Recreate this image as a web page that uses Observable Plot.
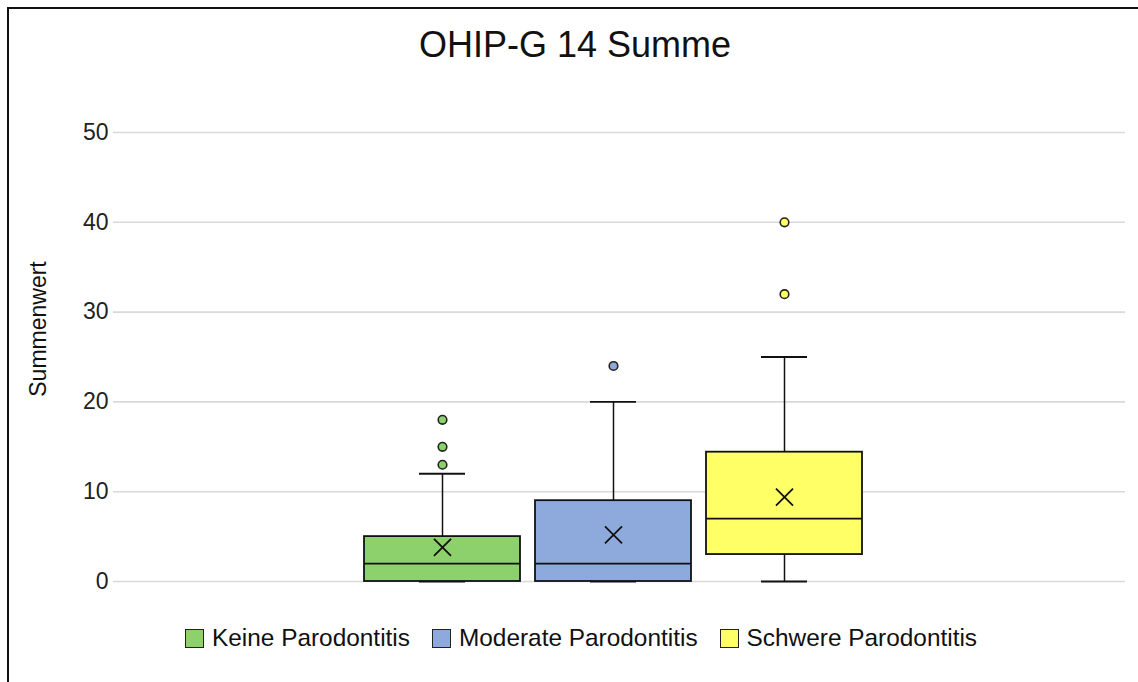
<!DOCTYPE html>
<html>
<head>
<meta charset="utf-8">
<script src="https://cdn.jsdelivr.net/npm/d3@7"></script>
<script src="https://cdn.jsdelivr.net/npm/@observablehq/plot@0.6"></script>
<style>
  html, body { margin: 0; padding: 0; background: #fff; overflow: hidden; width: 1138px; height: 682px; }
  body { position: relative; font-family: "Liberation Sans", Arial, Helvetica, sans-serif; color: #111; }
  #frame { position: absolute; left: 7px; top: 7px; width: 1300px; height: 900px; border-top: 2px solid #111; border-left: 2px solid #111; box-sizing: border-box; }
  #title { position: absolute; left: 575px; top: 27px; transform: translateX(-50%); font-size: 36px; line-height: 1; white-space: nowrap; color: #111; }
  #ylabel { position: absolute; left: 38px; top: 329px; transform: translate(-50%, -50%) rotate(-90deg); font-size: 23px; line-height: 1; white-space: nowrap; color: #111; }
  #chart { position: absolute; left: 0; top: 0; }
  #legend { position: absolute; left: 185px; top: 626px; display: flex; align-items: center; height: 24px; font-size: 24.4px; line-height: 1; white-space: nowrap; color: #111; }
  .item { display: flex; align-items: center; margin-right: 22px; }
  .sw { width: 17px; height: 17px; border: 1.5px solid #222; margin-right: 8px; }
</style>
</head>
<body>
<div id="frame"></div>
<div id="title">OHIP-G 14 Summe</div>
<div id="ylabel">Summenwert</div>
<div id="chart"></div>
<div id="legend"></div>
<script>
const series = ["Keine Parodontitis", "Moderate Parodontitis", "Schwere Parodontitis"];
const colors = ["#8CD16B", "#8EAADC", "#FFFF66"];
const minVals = [0, 0, 0];
const q1Vals = [0, 0, 3];
const medians = [2, 2, 7];
const q3Vals = [5, 9, 14.4];
const maxVals = [12, 20, 25];
const means = [3.8, 5.2, 9.4];
const outliers = [[13, 15, 18], [24], [32, 40]];
const yTicks = [0, 10, 20, 30, 40, 50];

const boxes = series.map((s, i) => ({
  s, min: minVals[i], q1: q1Vals[i], med: medians[i], q3: q3Vals[i], max: maxVals[i], mean: means[i]
}));
const outlierPts = series.flatMap((s, i) => outliers[i].map(v => ({s, v})));

const color = {domain: series, range: colors};

const chart = Plot.plot({
  width: 1138,
  height: 600,
  marginLeft: 113,
  marginRight: 13,
  marginTop: 132,
  marginBottom: 19,
  style: {fontFamily: "'Liberation Sans', Arial, Helvetica, sans-serif", background: "transparent", color: "#111"},
  x: {type: "band", domain: series, range: [364, 862], paddingInner: 0.09, paddingOuter: 0, axis: null},
  y: {domain: [0, 50]},
  color,
  marks: [
    Plot.gridY(yTicks, {stroke: "#d9d9d9", strokeOpacity: 1, strokeWidth: 1.6}),
    Plot.axisY(yTicks, {tickSize: 0, tickPadding: 5, fontSize: 23, label: null, fill: "#222"}),
    Plot.ruleX(boxes, {x: "s", y1: "q3", y2: "max", stroke: "#111", strokeWidth: 1.5}),
    Plot.ruleX(boxes, {x: "s", y1: "min", y2: "q1", stroke: "#111", strokeWidth: 1.5}),
    Plot.tickY(boxes, {x: "s", y: "max", stroke: "#111", strokeWidth: 1.8, insetLeft: 55, insetRight: 55}),
    Plot.tickY(boxes, {x: "s", y: "min", stroke: "#111", strokeWidth: 1.8, insetLeft: 55, insetRight: 55}),
    Plot.barY(boxes, {x: "s", y1: "q1", y2: "q3", fill: "s", stroke: "#111", strokeWidth: 1.8}),
    Plot.tickY(boxes, {x: "s", y: "med", stroke: "#111", strokeWidth: 1.8}),
    Plot.dot(boxes, {x: "s", y: "mean", symbol: "times", r: 7.8, stroke: "#111", strokeWidth: 1.8}),
    Plot.dot(outlierPts, {x: "s", y: "v", r: 4.3, fill: "s", stroke: "#222", strokeWidth: 1.6})
  ]
});
document.getElementById("chart").appendChild(chart);

const legend = document.getElementById("legend");
series.forEach((s, i) => {
  const item = document.createElement("div");
  item.className = "item";
  const sw = document.createElement("div");
  sw.className = "sw";
  sw.style.background = colors[i];
  const t = document.createElement("span");
  t.textContent = s;
  item.appendChild(sw);
  item.appendChild(t);
  legend.appendChild(item);
});
</script>
</body>
</html>
